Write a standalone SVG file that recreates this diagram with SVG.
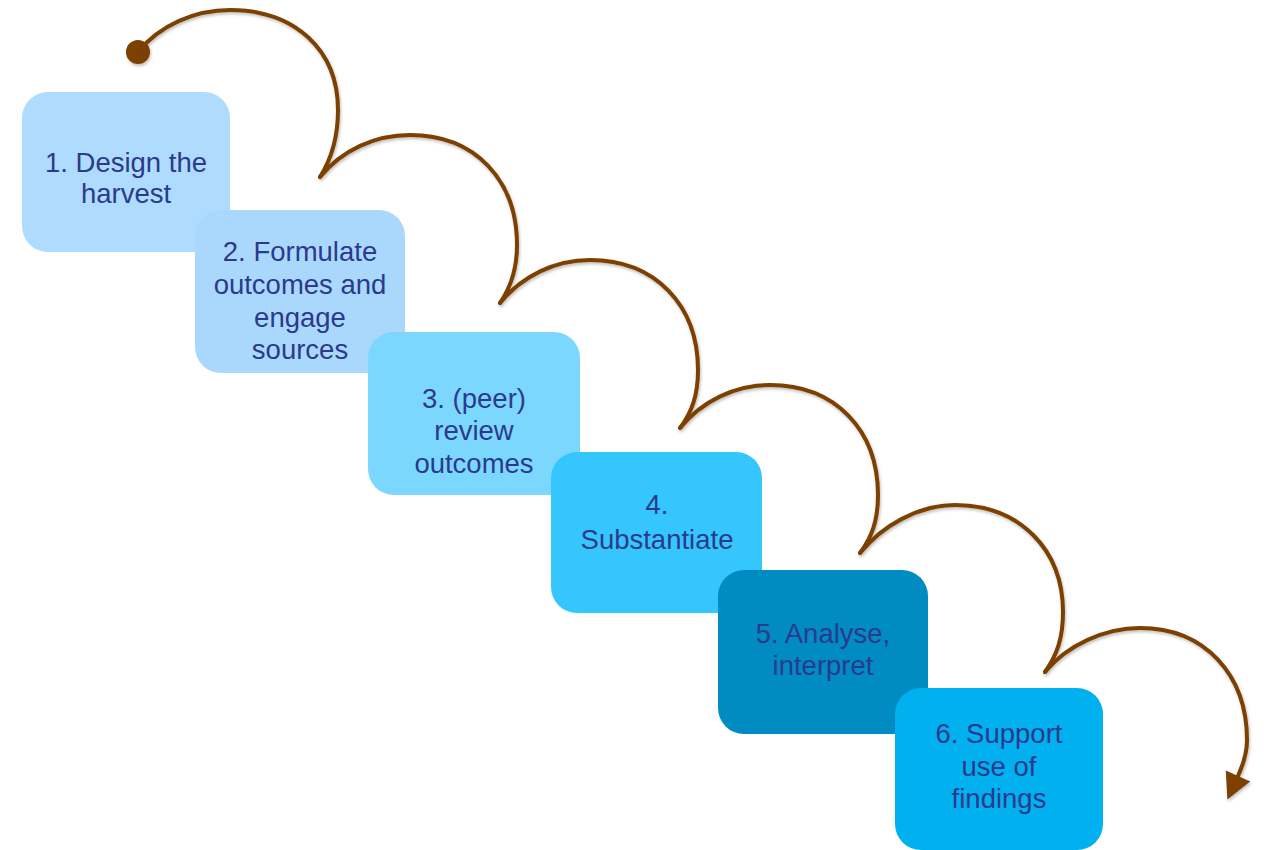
<svg xmlns="http://www.w3.org/2000/svg" width="1268" height="850" viewBox="0 0 1268 850">
<defs>
<style>
.box{stroke:none}
.t{font-family:"Liberation Sans",Arial,sans-serif;font-size:27.5px;fill:#2B3A8C;text-anchor:middle}
.arc{fill:none;stroke:#7B3F00;stroke-width:4;stroke-linecap:round;stroke-linejoin:round}
</style>
<marker id="ah" markerUnits="userSpaceOnUse" markerWidth="30" markerHeight="30" viewBox="-2 -14 28 28" refX="0" refY="0" orient="auto">
<path d="M0,-12.5 L24,0 L0,12.5 z" fill="#7B3F00"/>
</marker>
<filter id="sh" x="-10%" y="-10%" width="120%" height="120%">
<feDropShadow dx="1" dy="2" stdDeviation="1.5" flood-color="#000" flood-opacity="0.25"/>
</filter>
</defs>
<rect width="1268" height="850" fill="#ffffff"/>
<g id="node1"><rect class="box" x="22" y="92" width="208" height="160" rx="26" fill="#AEDBFE"/>
<text class="t" x="126" y="172">1. Design the</text><text class="t" x="126" y="203">harvest</text></g>
<g id="node2"><rect class="box" x="195" y="210" width="210" height="163" rx="26" fill="#AAD8FC"/>
<text class="t" x="300" y="261">2. Formulate</text><text class="t" x="300" y="294">outcomes and</text><text class="t" x="300" y="327">engage</text><text class="t" x="300" y="359">sources</text></g>
<g id="node3"><rect class="box" x="368" y="332" width="212" height="163" rx="26" fill="#7BD7FE"/>
<text class="t" x="474" y="408">3. (peer)</text><text class="t" x="474" y="440">review</text><text class="t" x="474" y="473">outcomes</text></g>
<g id="node4"><rect class="box" x="551" y="452" width="211" height="161" rx="26" fill="#35C6FE"/>
<text class="t" x="657" y="514">4.</text><text class="t" x="657" y="549">Substantiate</text></g>
<g id="node5"><rect class="box" x="718" y="570" width="210" height="164" rx="26" fill="#008BC2"/>
<text class="t" x="823" y="643">5. Analyse,</text><text class="t" x="823" y="675">interpret</text></g>
<g id="node6"><rect class="box" x="895" y="688" width="208" height="162" rx="26" fill="#00B0EF"/>
<text class="t" x="999" y="743">6. Support</text><text class="t" x="999" y="776">use of</text><text class="t" x="999" y="808">findings</text></g>
<g id="connectors" filter="url(#sh)">
<circle cx="138" cy="52" r="12" fill="#7B3F00"/>
<path class="arc" d="M138,52 C160,25 195,10 230,10 C295,10 338,50 338,110 C338,137 332,158 320,177"/>
<path class="arc" d="M320,177 C342,150 375,135 410,135 C475,135 517,180 517,245 C517,270 511,287 500,303"/>
<path class="arc" d="M500,303 C522,276 555,260 590,260 C655,260 698,305 698,370 C698,395 692,412 680,428"/>
<path class="arc" d="M680,428 C702,401 735,385 770,385 C835,385 878,430 878,495 C878,520 872,537 860,553"/>
<path class="arc" d="M860,553 C882,526 918,505 955,505 C1020,505 1063,550 1063,612 C1063,638 1057,655 1045,672"/>
<path class="arc" d="M1045,672 C1067,645 1105,628 1140,628 C1205,628 1247,675 1247,740 C1247,752 1243,765 1238,776" marker-end="url(#ah)"/>
</g>
</svg>
